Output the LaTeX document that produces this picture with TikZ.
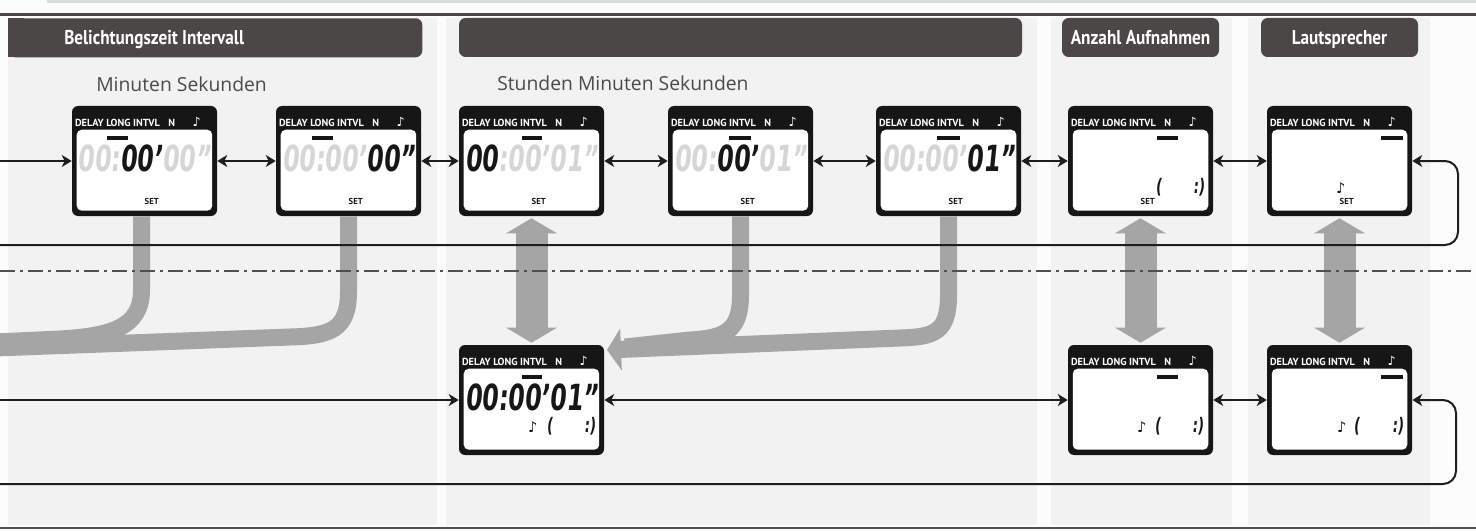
\documentclass[tikz,border=0pt]{standalone}
\usepackage{fontspec}
\setmainfont{Open Sans}
\newfontfamily\hdrfont[FakeStretch=0.86]{PT Sans}
\newfontfamily\lcdtopfont{PT Sans}
\newfontfamily\lcdfont[FakeStretch=0.66,FakeSlant=0.1]{DejaVu Sans}
\newfontfamily\djv{DejaVu Sans}
\usetikzlibrary{arrows.meta}
\definecolor{bgc}{HTML}{FCFCFC}
\definecolor{panelc}{HTML}{F2F2F2}
\definecolor{hdrgray}{HTML}{4B4747}
\definecolor{lcdblack}{HTML}{161616}
\definecolor{faint}{HTML}{D6D6D6}
\definecolor{bandgray}{HTML}{A5A5A5}
\definecolor{subc}{HTML}{4A4A4A}
\definecolor{linec}{HTML}{1E1E1E}
\definecolor{ddc}{HTML}{505050}
\definecolor{topbar}{HTML}{DADADA}
\newdimen\pxu \pxu=0.75pt
\newcommand\lcdbox[3]{%
  \node[lcd] (#1) at (#2,#3) {};
  \begin{scope}[shift={(#1.north west)}]
    \fill[white, rounded corners=3.75pt] (5,24) rectangle (140.5,105);
    \node[lcdtop, anchor=base west] (#1ta) at (3,21) {DELAY LONG INTVL};
    \node[lcdtop, anchor=base] (#1tb) at (100,21) {N};
    \node[lcdtop, anchor=base, font=\djv\fontsize{9.5pt}{10pt}\selectfont] (#1tc) at (125,21) {♪};
  \end{scope}}
\begin{document}
\begin{tikzpicture}[x=0.75pt,y=-0.75pt,
  lcd/.style={fill=lcdblack, rounded corners=4.5pt, minimum width=108.75pt, minimum height=82.5pt, inner sep=0pt},
  lcdtop/.style={text=white, font=\lcdtopfont\bfseries\fontsize{7.7pt}{8.5pt}\selectfont, inner sep=0pt},
  dig/.style={font=\lcdfont\bfseries\fontsize{27pt}{28pt}\selectfont, inner sep=0pt, text=lcdblack},
  brk/.style={font=\lcdfont\bfseries\fontsize{15pt}{16pt}\selectfont, inner sep=0pt, text=lcdblack, anchor=base},
  notesym/.style={font=\djv\fontsize{11pt}{12pt}\selectfont, inner sep=0pt, text=lcdblack, anchor=base},
  settxt/.style={font=\lcdtopfont\bfseries\fontsize{6.5pt}{7pt}\selectfont, inner sep=0pt, text=lcdblack},
  hdr/.style={fill=hdrgray, rounded corners=5pt, minimum height=29.25pt, inner sep=0pt},
  hdrtxt/.style={font=\hdrfont\bfseries\fontsize{15pt}{16pt}\selectfont, text=white, inner sep=0pt},
  subtxt/.style={font=\fontsize{14.5pt}{16pt}\selectfont, text=subc, inner sep=0pt},
  conn/.style={line width=1.5pt, draw=linec, >={Stealth[length=7.5pt,width=9pt,inset=2.25pt]}},
  band/.style={line width=12.75pt, draw=bandgray},
  gdbl/.style={line width=24pt, draw=bandgray, >={Triangle[length=11.25pt,width=37.5pt]}, <->, shorten <=1.5pt, shorten >=1.5pt},
  ddline/.style={line width=1.5pt, draw=ddc, dash pattern=on 11.25pt off 3.75pt on 2.25pt off 3.75pt},
]
\useasboundingbox (0,0) rectangle (1476,531);
\fill[bgc] (0,0) rectangle (1476,531);
\fill[panelc] (8,18) rectangle (437,525);
\fill[panelc] (446,18) rectangle (1037,525);
\fill[panelc] (1051,18) rectangle (1232,525);
\fill[panelc] (1248,18) rectangle (1430,525);
\fill[topbar] (47,0) rectangle (1476,3);
\draw[line width=2.25pt, draw=hdrgray] (0,14.5) -- (1476,14.5);
\draw[line width=1.5pt, draw=ddc] (0,528) -- (1476,528);
% headers
\node[hdr, minimum width=310.5pt, anchor=north west] (h1) at (8,18) {};
\fill[hdrgray] (8,18) rectangle (24,57);
\node[hdrtxt, anchor=base west] (h1t) at (64,45) {Belichtungszeit Intervall};
\node[hdr, minimum width=422.25pt] (h2) at (740.5,37.5) {};
\node[hdr, minimum width=117.75pt] (h3) at (1140.5,37.5) {};
\node[hdrtxt, anchor=base] (h3t) at (1140.5,45) {Anzahl Aufnahmen};
\node[hdr, minimum width=117.75pt] (h4) at (1339.5,37.5) {};
\node[hdrtxt, anchor=base] (h4t) at (1339.5,45) {Lautsprecher};
\node[subtxt, anchor=base west] (s1) at (96,92) {Minuten Sekunden};
\node[subtxt, anchor=base west] (s2) at (497,91) {Stunden Minuten Sekunden};
% displays
\lcdbox{d1}{144.5}{161}
\lcdbox{d2}{348.5}{161}
\lcdbox{d3}{531.5}{161}
\lcdbox{d4}{740.5}{161}
\lcdbox{d5}{948.5}{161}
\lcdbox{d6}{1140.5}{161}
\lcdbox{d7}{1339.5}{161}
\lcdbox{b1}{531.5}{400}
\lcdbox{b2}{1140.5}{400}
\lcdbox{b3}{1339.5}{400}
\begin{scope}[shift={(d1.north west)}]
  \fill[lcdblack] (35,30.5) rectangle (56,34);
  \node[dig] (d1x) at (72.5,52.5) {\textcolor{faint}{00:}00’\textcolor{faint}{00”}};
  \node[settxt] (d1s) at (80,96) {SET};
\end{scope}
\begin{scope}[shift={(d2.north west)}]
  \fill[lcdblack] (36,30.5) rectangle (57,34);
  \node[dig] (d2x) at (73,52.5) {\textcolor{faint}{00:00’}00”};
  \node[settxt] (d2s) at (80,96) {SET};
\end{scope}
\begin{scope}[shift={(d3.north west)}]
  \fill[lcdblack] (63,30.5) rectangle (83,34);
  \node[dig] (d3x) at (73,52.5) {00\textcolor{faint}{:00’01”}};
  \node[settxt] (d3s) at (80,96) {SET};
\end{scope}
\begin{scope}[shift={(d4.north west)}]
  \fill[lcdblack] (61,30.5) rectangle (83,34);
  \node[dig] (d4x) at (73,52.5) {\textcolor{faint}{00:}00’\textcolor{faint}{01”}};
  \node[settxt] (d4s) at (80,96) {SET};
\end{scope}
\begin{scope}[shift={(d5.north west)}]
  \fill[lcdblack] (61,30.5) rectangle (84,34);
  \node[dig] (d5x) at (73,52.5) {\textcolor{faint}{00:00’}01”};
  \node[settxt] (d5s) at (80,96) {SET};
\end{scope}
\begin{scope}[shift={(d6.north west)}]
  \fill[lcdblack] (89,30.5) rectangle (110,34);
  \node[brk] (d6a) at (91,88) {(};
  \node[brk] (d6b) at (131,88) {:)};
  \node[settxt] (d6s) at (80,96) {SET};
\end{scope}
\begin{scope}[shift={(d7.north west)}]
  \fill[lcdblack] (114,30.5) rectangle (136,34);
  \node[notesym] (d7n) at (74,88) {♪};
  \node[settxt] (d7s) at (80,96) {SET};
\end{scope}
\begin{scope}[shift={(b1.north west)}]
  \fill[lcdblack] (63,30.5) rectangle (83,34);
  \node[dig] (b1x) at (73,52.5) {00:00’01”};
  \node[notesym] (b1n) at (74,88) {♪};
  \node[brk] (b1a) at (91,88) {(};
  \node[brk] (b1b) at (131,88) {:)};
\end{scope}
\begin{scope}[shift={(b2.north west)}]
  \fill[lcdblack] (89,30.5) rectangle (110,34);
  \node[notesym] (b2n) at (74,88) {♪};
  \node[brk] (b2a) at (90,88) {(};
  \node[brk] (b2b) at (130,88) {:)};
\end{scope}
\begin{scope}[shift={(b3.north west)}]
  \fill[lcdblack] (114,30.5) rectangle (136,34);
  \node[notesym] (b3n) at (75,88) {♪};
  \node[brk] (b3a) at (90,88) {(};
  \node[brk] (b3b) at (131,88) {:)};
\end{scope}
% gray bands
\coordinate (e1) at (-5,342);
\coordinate (e2) at (-5,348);
\coordinate (j3) at (625,347);
\coordinate (hb) at (607,350);
\draw[band] ([xshift=-3\pxu]d1.south) -- (141.5,290) .. controls (141.5,328) and (110,336) .. (60,339) -- (e1);
\draw[band] (d2.south) -- (348.5,292) .. controls (348.5,330) and (330,336) .. (290,337) -- (e2);
\draw[band] (d4.south) -- (740.5,295) .. controls (740.5,331) and (725,338) .. (690,340) -- (j3);
\draw[band,-{Triangle[length=10.5pt,width=31pt]}] (d5.south) -- (948.5,295) .. controls (948.5,332) and (935,337) .. (900,338) -- (hb);
\draw[gdbl] (d3) -- (b1);
\draw[gdbl] (d6) -- (b2);
\draw[gdbl] (d7) -- (b3);
% black connectors
\coordinate (ia) at (-2,161);
\coordinate (ib) at (-2,400);
\draw[conn,->] (ia) -- (d1);
\draw[conn,->] (ib) -- (b1);
\foreach \a/\b in {d1/d2,d2/d3,d3/d4,d4/d5,d5/d6,d6/d7,b1/b2,b2/b3}
  \draw[conn,<->] (\a) -- (\b);
\coordinate (la) at (-2,245);
\coordinate (lb) at (1458,245);
\draw[conn,->,rounded corners=9.75pt] (la) -- (lb) |- (d7.east);
\coordinate (lc) at (-2,484);
\coordinate (ld) at (1456,484);
\draw[conn,->,rounded corners=9.75pt] (lc) -- (ld) |- (b3.east);
\coordinate (dda) at (0,271);
\coordinate (ddb) at (1476,271);
\draw[ddline] (dda) -- (ddb);
\end{tikzpicture}
\end{document}
